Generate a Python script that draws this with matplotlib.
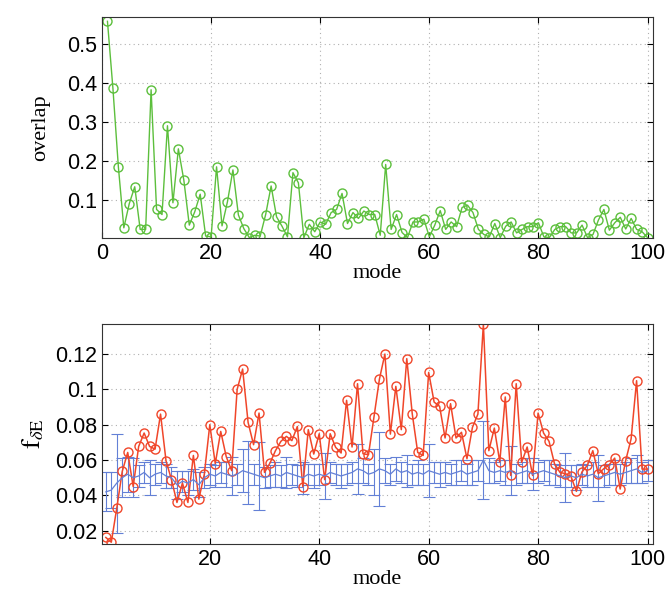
import matplotlib
matplotlib.use("Agg")
import matplotlib.pyplot as plt
import numpy as np

plt.rcParams['mathtext.fontset'] = 'stix'

modes = list(range(1, 101))

overlap = [0.557, 0.386, 0.185, 0.029, 0.091, 0.134, 0.025, 0.025, 0.382, 0.076,
           0.063, 0.290, 0.093, 0.231, 0.151, 0.036, 0.070, 0.115, 0.008, 0.006,
           0.185, 0.034, 0.096, 0.177, 0.062, 0.027, 0.004, 0.010, 0.008, 0.063,
           0.136, 0.057, 0.033, 0.006, 0.170, 0.144, 0.004, 0.038, 0.019, 0.044,
           0.038, 0.068, 0.076, 0.117, 0.040, 0.068, 0.053, 0.072, 0.063, 0.063,
           0.010, 0.191, 0.025, 0.063, 0.017, 0.004, 0.044, 0.044, 0.051, 0.006,
           0.036, 0.073, 0.025, 0.044, 0.032, 0.081, 0.087, 0.068, 0.025, 0.012,
           0.006, 0.040, 0.004, 0.033, 0.044, 0.016, 0.025, 0.032, 0.032, 0.042,
           0.006, 0.004, 0.025, 0.032, 0.032, 0.016, 0.016, 0.036, 0.004, 0.012,
           0.049, 0.076, 0.023, 0.042, 0.056, 0.026, 0.053, 0.025, 0.019, 0.004]

f_dE = [0.0162, 0.0135, 0.0328, 0.0536, 0.0643, 0.0450, 0.0677, 0.0753, 0.0677, 0.0662,
        0.0860, 0.0596, 0.0489, 0.0360, 0.0470, 0.0360, 0.0626, 0.0379, 0.0520, 0.0800,
        0.0580, 0.0762, 0.0620, 0.0540, 0.1000, 0.1115, 0.0813, 0.0687, 0.0866, 0.0530,
        0.0583, 0.0653, 0.0706, 0.0734, 0.0710, 0.0790, 0.0450, 0.0772, 0.0634, 0.0749,
        0.0489, 0.0749, 0.0672, 0.0640, 0.0938, 0.0674, 0.1032, 0.0636, 0.0630, 0.0843,
        0.1058, 0.1200, 0.0747, 0.1017, 0.0772, 0.1174, 0.0862, 0.0643, 0.0626, 0.1096,
        0.0928, 0.0904, 0.0725, 0.0919, 0.0725, 0.0757, 0.0608, 0.0785, 0.0860, 0.1370,
        0.0653, 0.0781, 0.0589, 0.0957, 0.0513, 0.1032, 0.0587, 0.0674, 0.0513, 0.0866,
        0.0753, 0.0706, 0.0579, 0.0530, 0.0523, 0.0508, 0.0423, 0.0532, 0.0570, 0.0653,
        0.0523, 0.0551, 0.0574, 0.0611, 0.0436, 0.0596, 0.0720, 0.1049, 0.0549, 0.0549]

rand_mean = [0.042, 0.043, 0.047, 0.050, 0.052, 0.050, 0.051, 0.053, 0.050, 0.052,
             0.053, 0.051, 0.050, 0.046, 0.048, 0.047, 0.049, 0.046, 0.050, 0.052,
             0.051, 0.053, 0.052, 0.051, 0.052, 0.054, 0.053, 0.052, 0.051, 0.050,
             0.051, 0.052, 0.051, 0.053, 0.052, 0.051, 0.050, 0.052, 0.051, 0.052,
             0.051, 0.053, 0.052, 0.051, 0.052, 0.053, 0.055, 0.054, 0.052, 0.053,
             0.055, 0.054, 0.052, 0.055, 0.053, 0.054, 0.052, 0.053, 0.052, 0.054,
             0.053, 0.052, 0.053, 0.052, 0.053, 0.054, 0.052, 0.053, 0.054, 0.060,
             0.054, 0.053, 0.054, 0.053, 0.054, 0.052, 0.053, 0.054, 0.052, 0.053,
             0.054, 0.053, 0.052, 0.051, 0.050, 0.051, 0.050, 0.052, 0.051, 0.052,
             0.050, 0.051, 0.052, 0.053, 0.052, 0.053, 0.054, 0.055, 0.053, 0.054]

rand_err = [0.011, 0.010, 0.028, 0.011, 0.010, 0.011, 0.006, 0.006, 0.010, 0.006,
            0.006, 0.007, 0.006, 0.008, 0.006, 0.007, 0.006, 0.007, 0.006, 0.006,
            0.006, 0.006, 0.007, 0.011, 0.006, 0.012, 0.018, 0.006, 0.019, 0.006,
            0.006, 0.007, 0.006, 0.009, 0.006, 0.006, 0.009, 0.006, 0.007, 0.006,
            0.013, 0.006, 0.006, 0.007, 0.006, 0.006, 0.014, 0.007, 0.006, 0.013,
            0.021, 0.007, 0.006, 0.007, 0.006, 0.009, 0.006, 0.007, 0.006, 0.015,
            0.006, 0.007, 0.006, 0.006, 0.007, 0.006, 0.006, 0.007, 0.006, 0.022,
            0.007, 0.006, 0.006, 0.007, 0.014, 0.006, 0.006, 0.007, 0.009, 0.006,
            0.006, 0.007, 0.006, 0.006, 0.014, 0.006, 0.007, 0.006, 0.006, 0.007,
            0.013, 0.006, 0.006, 0.007, 0.006, 0.006, 0.007, 0.008, 0.006, 0.006]

top_yticks = [0.1, 0.2, 0.3, 0.4, 0.5]
top_yticklabels = ['0.1', '0.2', '0.3', '0.4', '0.5']
top_xticks = [0, 20, 40, 60, 80, 100]
bot_yticks = [0.02, 0.04, 0.06, 0.08, 0.10, 0.12]
bot_yticklabels = ['0.02', '0.04', '0.06', '0.08', '0.1', '0.12']
bot_xticks = [20, 40, 60, 80, 100]

green = '#5cbf3c'
red = '#f0462a'
blue = '#6380d6'

tick_font = 'Liberation Sans'
label_font = 'Liberation Serif'

fig = plt.figure(figsize=(6.7, 5.92), dpi=100)
ax1 = fig.add_axes([102/670, 1-238/592, 551/670, 221/592])
ax2 = fig.add_axes([102/670, 1-544/592, 551/670, 220/592])

def style(ax):
    ax.grid(True, linestyle=(0, (1, 3)), color='#b0b0b0', linewidth=0.8)
    ax.set_axisbelow(True)
    ax.tick_params(direction='in', top=True, right=True, length=4, width=0.8,
                   labelsize=15.5, colors='black')
    for lab in ax.get_xticklabels() + ax.get_yticklabels():
        lab.set_fontfamily(tick_font)
    for s in ax.spines.values():
        s.set_linewidth(0.8)
        s.set_color('#333333')

ax1.plot(modes, overlap, '-o', color=green, linewidth=1.0, markersize=6.5,
         markerfacecolor='none', markeredgewidth=1.0)
ax1.set_xlim(0, 101)
ax1.set_ylim(0.003, 0.568)
ax1.set_xticks(top_xticks)
ax1.set_yticks(top_yticks)
ax1.set_yticklabels(top_yticklabels)
style(ax1)
ax1.set_xlabel('mode', fontfamily=label_font, fontsize=16, labelpad=0)
ax1.set_ylabel('overlap', fontfamily=label_font, fontsize=16, labelpad=12)

ax2.errorbar(modes, rand_mean, yerr=rand_err, color=blue, linewidth=0.9,
             elinewidth=0.8, capsize=4.2, capthick=0.8)
ax2.plot(modes, f_dE, '-o', color=red, linewidth=1.1, markersize=6.5,
         markerfacecolor='none', markeredgewidth=1.0)
ax2.set_xlim(0.3, 101)
ax2.set_ylim(0.0125, 0.137)
ax2.set_xticks(bot_xticks)
ax2.set_yticks(bot_yticks)
ax2.set_yticklabels(bot_yticklabels)
style(ax2)
ax2.set_xlabel('mode', fontfamily=label_font, fontsize=16, labelpad=0)
ax2.set_ylabel(r'$\mathrm{f}_{\delta\mathrm{E}}$', fontsize=19, labelpad=6)

fig.savefig('out.png', dpi=100)
